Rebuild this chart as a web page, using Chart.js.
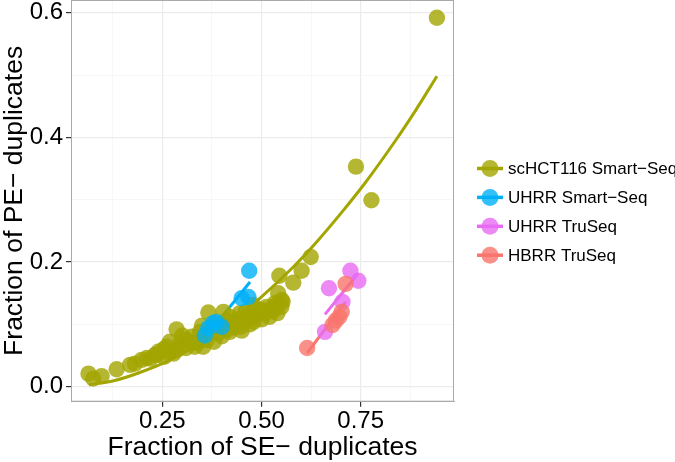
<!DOCTYPE html>
<html>
<head>
<meta charset="utf-8">
<script src="https://cdn.jsdelivr.net/npm/chart.js@4"></script>
<style>
  html, body { margin: 0; padding: 0; background: #fff; }
</style>
</head>
<body>
<canvas id="c" width="675" height="462"></canvas>
<script>
/* Fraction of PE- vs SE- duplicates, scatter + fitted curves */
(function () {
  "use strict";

  // series names and colours (legend order)
  var seriesNames = ["scHCT116 Smart\u2212Seq", "UHRR Smart\u2212Seq", "UHRR TruSeq", "HBRR TruSeq"];
  var lineColors = ["#A3A500", "#00B0F6", "#E76BF3", "#F8766D"];
  var pointColors = ["rgba(163,165,0,0.8)", "rgba(0,176,246,0.8)", "rgba(231,107,243,0.8)", "rgba(248,118,109,0.8)"];

  // axis ticks
  var xGrid = [0.125, 0.25, 0.375, 0.5, 0.625, 0.75, 0.875];
  var xMajors = [0.25, 0.5, 0.75];
  var yGrid = [0, 0.1, 0.2, 0.3, 0.4, 0.5, 0.6];
  var yMajors = [0, 0.2, 0.4, 0.6];

  // scHCT116 Smart-Seq
  var hctX = [0.942, 0.738, 0.777, 0.624, 0.601, 0.545, 0.580, 0.542, 0.553, 0.534, 0.529, 0.513, 0.500, 0.479,
    0.479, 0.463, 0.446, 0.446, 0.429, 0.421, 0.412, 0.404, 0.391, 0.378, 0.366, 0.362, 0.353, 0.345, 0.332,
    0.328, 0.324, 0.311, 0.295, 0.286, 0.282, 0.278, 0.269, 0.261, 0.253, 0.236, 0.232, 0.211, 0.198, 0.181,
    0.169, 0.135, 0.097, 0.076, 0.064, 0.538, 0.496, 0.463, 0.429, 0.551,
    0.300, 0.310, 0.340, 0.350, 0.370, 0.380, 0.390, 0.400, 0.410, 0.420, 0.430, 0.440, 0.450, 0.460, 0.470,
    0.480, 0.490, 0.500, 0.510, 0.520, 0.530, 0.540, 0.550, 0.255, 0.265, 0.290, 0.220, 0.240];
  var hctY = [0.592, 0.353, 0.299, 0.208, 0.186, 0.178, 0.167, 0.150, 0.136, 0.134, 0.128, 0.128, 0.123, 0.131,
    0.112, 0.107, 0.118, 0.096, 0.104, 0.112, 0.091, 0.120, 0.086, 0.094, 0.119, 0.075, 0.064, 0.088, 0.064,
    0.070, 0.080, 0.075, 0.070, 0.092, 0.059, 0.053, 0.072, 0.064, 0.060, 0.051, 0.051, 0.046, 0.043, 0.037,
    0.035, 0.028, 0.017, 0.013, 0.021, 0.131, 0.123, 0.112, 0.102, 0.139,
    0.082, 0.062, 0.071, 0.098, 0.085, 0.072, 0.100, 0.081, 0.105, 0.088, 0.095, 0.108, 0.090, 0.120, 0.100,
    0.104, 0.116, 0.108, 0.118, 0.112, 0.122, 0.118, 0.128, 0.048, 0.055, 0.060, 0.045, 0.056];

  // UHRR Smart-Seq
  var uhrrSmX = [0.469, 0.450, 0.467, 0.378, 0.366, 0.400, 0.357, 0.386];
  var uhrrSmY = [0.186, 0.142, 0.144, 0.102, 0.094, 0.096, 0.082, 0.104];

  // UHRR TruSeq
  var uhrrTrX = [0.724, 0.744, 0.670, 0.704, 0.660];
  var uhrrTrY = [0.186, 0.170, 0.158, 0.136, 0.088];

  // HBRR TruSeq
  var hbrrX = [0.712, 0.702, 0.696, 0.687, 0.679, 0.615];
  var hbrrY = [0.165, 0.120, 0.112, 0.106, 0.099, 0.062];

  // fitted curves
  var fitHctX = [0.065, 0.13, 0.19, 0.27, 0.35, 0.42, 0.50, 0.58, 0.64, 0.70, 0.76, 0.84, 0.89, 0.942];
  var fitHctY = [0.003, 0.010, 0.022, 0.043, 0.072, 0.102, 0.144, 0.192, 0.233, 0.278, 0.326, 0.397, 0.445, 0.498];
  var fitUhrrSmX = [0.357, 0.471];
  var fitUhrrSmY = [0.078, 0.168];
  var fitUhrrTrX = [0.660, 0.744];
  var fitUhrrTrY = [0.116, 0.182];
  var fitHbrrX = [0.615, 0.712];
  var fitHbrrY = [0.054, 0.136];

  var FONT = "'Liberation Sans', Arial, sans-serif";

  function pts(xs, ys) { return xs.map(function (x, i) { return { x: x, y: ys[i] }; }); }
  function nuage(xs, ys, k, ordre) {
    return { data: pts(xs, ys), backgroundColor: pointColors[k], borderWidth: 0, pointRadius: 8.2, order: ordre };
  }
  function courbe(xs, ys, k) {
    return { data: pts(xs, ys), showLine: true, borderColor: lineColors[k], borderWidth: 3, pointRadius: 0,
      tension: 0.4, cubicInterpolationMode: "monotone", fill: false, order: 10 + k };
  }
  function estMajeur(v, liste) { return liste.some(function (m) { return Math.abs(m - v) < 1e-9; }); }

  var cadre = {
    id: "cadre",
    afterDraw: function (chart) {
      var a = chart.chartArea, ctx = chart.ctx;
      ctx.save();
      ctx.strokeStyle = "#aaa";
      ctx.lineWidth = 1;
      ctx.strokeRect(a.left + 0.5, a.top + 0.5, a.right - a.left - 1, a.bottom - a.top - 1);
      ctx.restore();
    }
  };

  var legende = {
    id: "legende",
    afterDraw: function (chart) {
      var ctx = chart.ctx;
      ctx.save();
      ctx.font = "17px " + FONT;
      ctx.textBaseline = "middle";
      seriesNames.forEach(function (nom, i) {
        var y = 168.5 + i * 28.9;
        ctx.strokeStyle = lineColors[i];
        ctx.lineWidth = 3.5;
        ctx.beginPath(); ctx.moveTo(477, y); ctx.lineTo(503, y); ctx.stroke();
        ctx.fillStyle = pointColors[i];
        ctx.beginPath(); ctx.arc(490, y, 8.5, 0, 2 * Math.PI); ctx.fill();
        ctx.fillStyle = "#000";
        ctx.fillText(nom, 508, y + 1);
      });
      ctx.restore();
    }
  };

  function axe(min, max, grille, majeurs, decimales, titre, horizontal) {
    return {
      type: "linear", min: min, max: max,
      afterBuildTicks: function (s) { s.ticks = grille.map(function (v) { return { value: v }; }); },
      afterFit: function (s) {
        if (horizontal) { s.height = 60.3; s.paddingLeft = 0; s.paddingRight = 0; }
        else { s.width = 71; s.paddingTop = 0; s.paddingBottom = 0; }
      },
      ticks: {
        autoSkip: false, maxRotation: 0, padding: 3, color: "#000",
        font: { family: FONT, size: 24, lineHeight: 1 },
        callback: function (v) { return estMajeur(v, majeurs) ? v.toFixed(decimales) : ""; }
      },
      grid: {
        color: function (c) { return c.tick && estMajeur(c.tick.value, majeurs) ? "#ebebeb" : "#f4f4f4"; },
        lineWidth: function (c) { return c.tick && estMajeur(c.tick.value, majeurs) ? 1.2 : 0.7; },
        tickColor: function (c) { return c.tick && estMajeur(c.tick.value, majeurs) ? "#333" : "rgba(0,0,0,0)"; },
        tickLength: 5
      },
      border: { color: "#aaa" },
      title: { display: true, text: titre, color: "#000", padding: 0, font: { family: FONT, size: 26.5, lineHeight: 1.1 } }
    };
  }

  new Chart(document.getElementById("c"), {
    type: "scatter",
    data: {
      datasets: [
        nuage(hbrrX, hbrrY, 3, 1),
        nuage(uhrrTrX, uhrrTrY, 2, 2),
        nuage(uhrrSmX, uhrrSmY, 1, 3),
        nuage(hctX, hctY, 0, 4),
        courbe(fitHctX, fitHctY, 0),
        courbe(fitUhrrSmX, fitUhrrSmY, 1),
        courbe(fitUhrrTrX, fitUhrrTrY, 2),
        courbe(fitHbrrX, fitHbrrY, 3)
      ]
    },
    options: {
      responsive: false,
      animation: false,
      layout: { autoPadding: false, padding: { left: 0, right: 221, top: 0, bottom: 0 } },
      plugins: { legend: { display: false }, tooltip: { enabled: false } },
      scales: {
        x: axe(0.0199, 0.9851, xGrid, xMajors, 2, "Fraction of SE\u2212 duplicates", true),
        y: axe(-0.0241, 0.6204, yGrid, yMajors, 1, "Fraction of PE\u2212 duplicates", false)
      }
    },
    plugins: [cadre, legende]
  });
})();
</script>
</body>
</html>
